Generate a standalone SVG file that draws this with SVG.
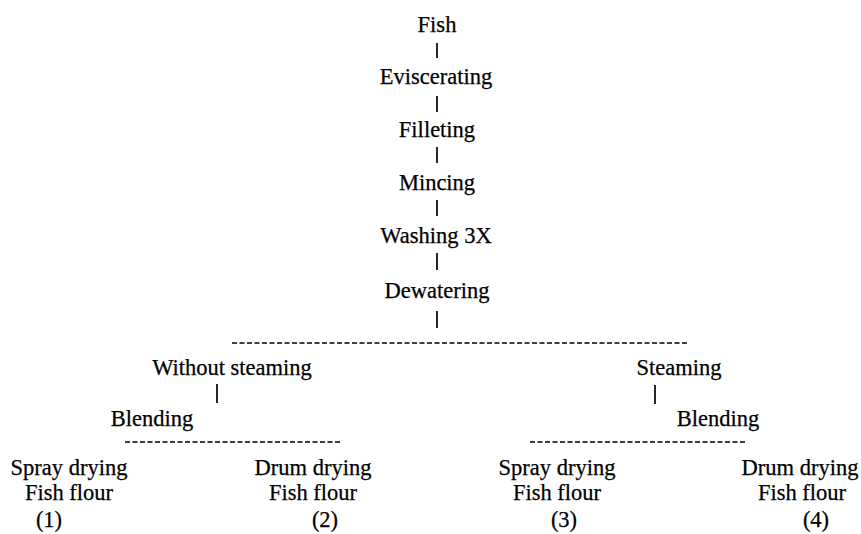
<svg xmlns="http://www.w3.org/2000/svg" width="861" height="534" viewBox="0 0 861 534">
<style>
text{font-family:"Liberation Serif","Times New Roman",serif;font-size:22.5px;fill:#000;stroke:#000;stroke-width:0.25;text-anchor:middle}
.bar{stroke:#000;stroke-width:1.7;fill:none}
.dash{stroke:#000;stroke-width:1.5;stroke-dasharray:5 2.5;fill:none}
</style>
<rect width="861" height="534" fill="#fff"/>
<g id="connectors">
<line class="bar" x1="437" y1="43" x2="437" y2="58"/>
<line class="bar" x1="437" y1="96" x2="437" y2="112"/>
<line class="bar" x1="437" y1="147" x2="437" y2="163"/>
<line class="bar" x1="437" y1="200" x2="437" y2="216"/>
<line class="bar" x1="437" y1="253" x2="437" y2="270"/>
<line class="bar" x1="437" y1="311" x2="437" y2="328"/>
<line class="dash" x1="232" y1="343" x2="688" y2="343"/>
<line class="bar" x1="217" y1="384" x2="217" y2="403"/>
<line class="bar" x1="655" y1="385" x2="655" y2="404"/>
<line class="dash" x1="125" y1="442" x2="342" y2="442"/>
<line class="dash" x1="530" y1="442" x2="747" y2="442"/>
</g>
<g id="n-fish"><text x="437" y="32">Fish</text></g>
<g id="n-eviscerating"><text x="436" y="84">Eviscerating</text></g>
<g id="n-filleting"><text x="437" y="137">Filleting</text></g>
<g id="n-mincing"><text x="437" y="190">Mincing</text></g>
<g id="n-washing"><text x="436" y="243">Washing 3X</text></g>
<g id="n-dewatering"><text x="437" y="298">Dewatering</text></g>
<g id="n-without"><text x="232" y="375">Without steaming</text></g>
<g id="n-steaming"><text x="679" y="375">Steaming</text></g>
<g id="n-blend-left"><text x="152" y="426">Blending</text></g>
<g id="n-blend-right"><text x="718" y="426">Blending</text></g>
<g id="n-p1"><text x="69" y="475">Spray drying</text><text x="69" y="500">Fish flour</text><text x="49" y="527">(1)</text></g>
<g id="n-p2"><text x="313" y="475">Drum drying</text><text x="313" y="500">Fish flour</text><text x="325" y="527">(2)</text></g>
<g id="n-p3"><text x="557" y="475">Spray drying</text><text x="557" y="500">Fish flour</text><text x="564" y="527">(3)</text></g>
<g id="n-p4"><text x="800" y="475">Drum drying</text><text x="802" y="500">Fish flour</text><text x="816" y="527">(4)</text></g>
</svg>
